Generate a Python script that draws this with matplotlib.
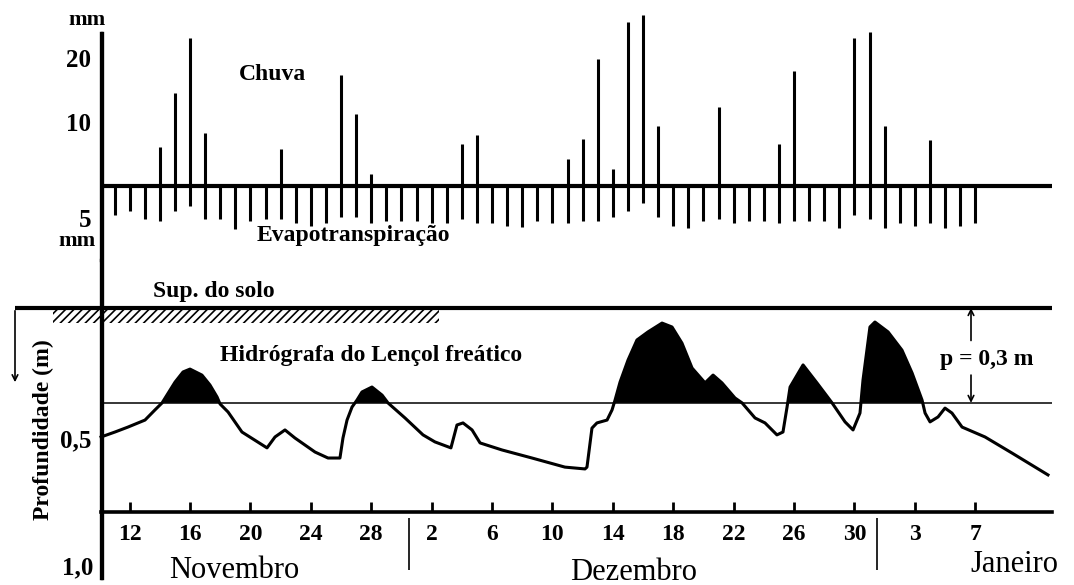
import numpy as np
import matplotlib
matplotlib.use('Agg')
import matplotlib.pyplot as plt
from matplotlib.patches import Rectangle
from matplotlib.lines import Line2D

plt.rcParams['font.family'] = ['Liberation Serif', 'DejaVu Serif']
plt.rcParams['hatch.linewidth'] = 1.2

# dia 0 = 11 de novembro ... dia 57 = 7 de janeiro
evapo_mm = [4.6, 3.9, 5.1, 5.5, 3.9, 3.2, 5.1, 5.1, 6.7, 5.5,
            5.1, 5.1, 5.8, 6.2, 5.8, 4.8, 4.8, 5.8, 5.5, 5.5,   # novembro
            5.5, 5.8, 5.8, 5.1, 5.8, 5.8, 6.2, 6.4, 5.5, 5.8,
            5.8, 5.5, 5.5, 4.9, 3.9, 2.6, 4.9, 6.2, 6.5, 5.5,
            5.2, 5.8, 5.5, 5.5, 5.8, 5.5, 5.5, 5.5, 6.5, 4.5, 5.2,  # dezembro
            6.5, 5.8, 6.2, 5.8, 6.5, 6.2, 5.8]                   # janeiro

chuva_dias = [3, 4, 5, 6, 11, 15, 16, 17, 23, 24,
              30, 31, 32, 33, 34, 35, 36, 40, 44, 45, 49, 50, 51, 54]
chuva_mm = [6.1, 14.5, 23.2, 8.3, 5.8, 17.4, 11.2, 1.9, 6.5, 8.0,
            4.2, 7.4, 19.8, 2.6, 25.7, 26.7, 9.4, 12.3, 6.5, 17.9, 23.1, 24.1, 9.4, 7.2]

# hidrografa do lencol freatico: dia, profundidade (m)
hidro_dia = [-0.89, 0.03, 0.89, 2.02, 2.68, 3.15, 4.01, 4.54, 5.00, 5.79,
             6.32, 6.79, 6.99, 7.52, 8.44, 10.10, 10.63, 11.29, 11.95, 13.28,
             14.14, 14.93, 15.13, 15.40, 15.73, 16.06, 16.39, 17.05, 17.72, 18.11,
             19.24, 20.43, 21.22, 22.28, 22.68, 23.08, 23.68, 24.21, 25.66, 27.65,
             29.83, 31.16, 31.29, 31.62, 31.95, 32.62, 32.95, 33.15, 33.48, 34.01,
             34.60, 35.33, 36.26, 36.92, 37.58, 38.25, 39.11, 39.64, 40.23, 41.09,
             41.56, 42.42, 43.08, 43.87, 44.27, 44.54, 44.74, 45.60, 46.52, 47.52,
             48.38, 48.91, 49.37, 49.57, 50.03, 50.36, 51.23, 52.15, 52.82, 53.48,
             53.68, 54.01, 54.54, 55.00, 55.46, 56.13, 57.65, 59.44, 61.82]
hidro_prof = [0.496, 0.477, 0.458, 0.431, 0.392, 0.365, 0.285, 0.246, 0.235, 0.258,
              0.296, 0.342, 0.369, 0.400, 0.477, 0.538, 0.496, 0.469, 0.500, 0.554,
              0.577, 0.577, 0.500, 0.431, 0.381, 0.354, 0.323, 0.304, 0.335, 0.365,
              0.423, 0.488, 0.515, 0.538, 0.450, 0.442, 0.469, 0.519, 0.546, 0.577,
              0.612, 0.619, 0.612, 0.462, 0.442, 0.431, 0.392, 0.354, 0.285, 0.200,
              0.123, 0.092, 0.058, 0.073, 0.135, 0.231, 0.288, 0.258, 0.288, 0.346,
              0.365, 0.423, 0.442, 0.488, 0.477, 0.381, 0.304, 0.219, 0.288, 0.365,
              0.438, 0.469, 0.404, 0.277, 0.073, 0.054, 0.092, 0.162, 0.250, 0.354,
              0.404, 0.438, 0.419, 0.385, 0.404, 0.458, 0.496, 0.558, 0.642]
nivel_p = 0.365

marcas_dia = [1, 5, 9, 13, 17, 21, 25, 29, 33, 37, 41, 45, 49, 53, 57]
marcas_rotulo = ['12', '16', '20', '24', '28', '2', '6', '10', '14', '18',
                 '22', '26', '30', '3', '7']
limites_mes = [19.5, 50.5]

dias = np.arange(len(evapo_mm))

# layout em pixels
W, H = 1074, 585
px_x0, px_dia = 114.5, 15.1
mm_px = 6.4
m_px = 260.0


def dx(px):
    return (px - px_x0) / px_dia


def ftxt(x, y, s, **kw):
    fig.text(x / W, 1 - y / H, s, **kw)


x_eixo = dx(101)
x_fim = dx(1052)
xlim = (dx(0), dx(W))

fig = plt.figure(figsize=(W / 100, H / 100), dpi=100)
fig.patch.set_facecolor('white')
bold = dict(fontweight='bold', fontsize=17)

# ---- chuva / evapotranspiracao ----
ax1 = fig.add_axes([0, 1 - 260 / H, 1, 260 / H])
ax1.patch.set_visible(False)
ax1.set_xlim(xlim)
ax1.set_ylim(-(260 - 186) / mm_px, 186 / mm_px)
for s in ['top', 'right', 'bottom']:
    ax1.spines[s].set_visible(False)
ax1.spines['left'].set_position(('data', x_eixo))
ax1.spines['left'].set_bounds(ax1.get_ylim()[0], (186 - 33) / mm_px)
ax1.spines['left'].set_linewidth(2.4)
ax1.set_xticks([])
ax1.set_yticks([20, 10, -5], ['20', '10', '5'])
ax1.tick_params(axis='y', length=0, pad=7, labelsize=18)
for lab in ax1.get_yticklabels():
    lab.set_fontweight('bold')

ax1.hlines(0, x_eixo, x_fim, color='k', lw=3)
ax1.vlines(chuva_dias, 0, chuva_mm, color='k', lw=2.2)
ax1.vlines(dias, 0, -np.array(evapo_mm), color='k', lw=2.2)

# ---- hidrografa ----
ax2 = fig.add_axes([0, 1 - 512 / H, 1, (512 - 260) / H])
ax2.patch.set_visible(False)
ax2.set_xlim(xlim)
ax2.set_ylim((512 - 308) / m_px, (260 - 308) / m_px)
for s in ['top', 'right']:
    ax2.spines[s].set_visible(False)
ax2.spines['left'].set_position(('data', x_eixo))
ax2.spines['left'].set_bounds((578 - 308) / m_px, ax2.get_ylim()[1])
ax2.spines['left'].set_linewidth(2.4)
ax2.spines['bottom'].set_bounds(x_eixo, x_fim)
ax2.spines['bottom'].set_linewidth(2.6)
ax2.set_xticks(marcas_dia, marcas_rotulo)
ax2.tick_params(axis='x', direction='in', length=7, width=2, labelsize=17, pad=9)
for lab in ax2.get_xticklabels():
    lab.set_fontweight('bold')
ax2.set_yticks([0.5], ['0,5'])
ax2.tick_params(axis='y', length=0, pad=7, labelsize=18)
for lab in ax2.get_yticklabels():
    lab.set_fontweight('bold')

# eixo vertical continuo entre os dois paineis
fig.add_artist(Line2D([101.5 / W, 101.5 / W], [1 - 33 / H, 1 - 578 / H],
                      color='k', lw=2.4, transform=fig.transFigure))

ax2.hlines(0, dx(15), x_fim, color='k', lw=3)
ax2.hlines(nivel_p, x_eixo, x_fim, color='k', lw=1.1)
ax2.add_patch(Rectangle((dx(53), 0.008), dx(439) - dx(53), 0.048, hatch='////',
                        fill=False, edgecolor='k', lw=0))
hd = np.array(hidro_dia)
hp = np.array(hidro_prof)
ax2.fill_between(hd, hp, nivel_p, where=hp < nivel_p, interpolate=True,
                 color='k', lw=0)
ax2.plot(hd, hp, color='k', lw=2.2)

# seta de profundidade
ax2.annotate('', xy=(dx(15), (385 - 308) / m_px), xytext=(dx(15), 0),
             arrowprops=dict(arrowstyle='->', lw=1.2, color='k'))
# cota p
xp = dx(971)
ax2.annotate('', xy=(xp, 0.0), xytext=(xp, 0.125),
             arrowprops=dict(arrowstyle='->', lw=1.2, color='k', shrinkA=0, shrinkB=0))
ax2.annotate('', xy=(xp, nivel_p), xytext=(xp, 0.258),
             arrowprops=dict(arrowstyle='->', lw=1.2, color='k', shrinkA=0, shrinkB=0))
ax2.text(dx(987), 0.2, 'p = 0,3 m', ha='center', va='center', **bold)

ax2.vlines(limites_mes, (518 - 308) / m_px, (570 - 308) / m_px, color='k',
           lw=1.2, clip_on=False)

# textos
ftxt(87, 20, 'mm', ha='center', va='center', fontweight='bold', fontsize=16)
ftxt(96, 241, 'mm', ha='right', va='center', fontweight='bold', fontsize=16)
ftxt(272, 74, 'Chuva', ha='center', va='center', **bold)
ftxt(353, 236, 'Evapotranspiração', ha='center', va='center', **bold)
ftxt(214, 292, 'Sup. do solo', ha='center', va='center', **bold)
ftxt(371, 355, 'Hidrógrafa do Lençol freático', ha='center', va='center', **bold)
ftxt(43, 430, 'Profundidade (m)', ha='center', va='center', rotation=90, **bold)
ftxt(93, 568, '1,0', ha='right', va='center', fontweight='bold', fontsize=18)
ftxt(234, 570, 'Novembro', ha='center', va='center', fontsize=22)
ftxt(634, 572, 'Dezembro', ha='center', va='center', fontsize=22)
ftxt(1014, 565, 'Janeiro', ha='center', va='center', fontsize=22)

fig.savefig('out.png', dpi=100, facecolor='white')
